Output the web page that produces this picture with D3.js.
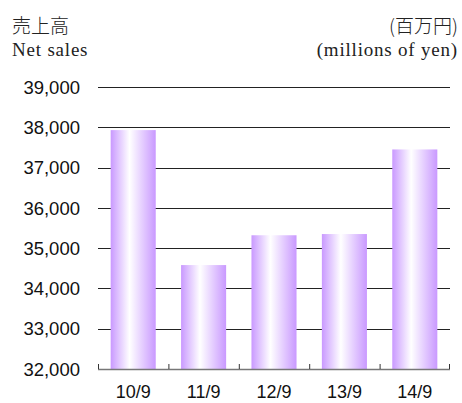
<!DOCTYPE html>
<html>
<head>
<meta charset="utf-8">
<script src="https://cdn.jsdelivr.net/npm/d3@7"></script>
<style>
  body { margin: 0; background: #fff; }
</style>
</head>
<body>
<div id="chart"></div>
<script>
var years = ["10/9", "11/9", "12/9", "13/9", "14/9"];
var sales = [37930, 34580, 35320, 35350, 37450];
var yTicks = [32000, 33000, 34000, 35000, 36000, 37000, 38000, 39000];

var width = 462, height = 403;
var plotLeft = 98, plotRight = 450, plotTop = 87, plotBottom = 369;

var svg = d3.select('#chart')
  .append('svg')
  .attr('width', width)
  .attr('height', height);

var defs = svg.append('defs');
var grad = defs.append('linearGradient')
  .attr('id', 'barGrad')
  .attr('x1', '0%').attr('x2', '100%')
  .attr('y1', '0%').attr('y2', '0%');
grad.append('stop').attr('offset', '0%').attr('stop-color', '#c999ff');
grad.append('stop').attr('offset', '42%').attr('stop-color', '#ffffff');
grad.append('stop').attr('offset', '100%').attr('stop-color', '#c999ff');

var x = d3.scaleBand()
  .domain(years)
  .range([plotLeft, plotRight])
  .paddingInner(0.36)
  .paddingOuter(0.18);

var xEdge = d3.scaleBand()
  .domain(years)
  .range([plotLeft, plotRight]);

var y = d3.scaleLinear()
  .domain([32000, 39000])
  .range([plotBottom, plotTop]);

// grid lines
svg.selectAll('.grid')
  .data(yTicks.slice(1))
  .enter().append('line')
  .attr('x1', plotLeft)
  .attr('x2', plotRight)
  .attr('y1', function (d) { return Math.round(y(d)) + 0.5; })
  .attr('y2', function (d) { return Math.round(y(d)) + 0.5; })
  .attr('stroke', '#222')
  .attr('stroke-width', 1.2);

// bars
svg.selectAll('.bar')
  .data(sales)
  .enter().append('rect')
  .attr('x', function (d, i) { return x(years[i]); })
  .attr('y', function (d) { return y(d); })
  .attr('width', x.bandwidth())
  .attr('height', function (d) { return y(32000) - y(d); })
  .attr('fill', 'url(#barGrad)');

// baseline and ticks
svg.append('line')
  .attr('x1', plotLeft).attr('x2', plotRight)
  .attr('y1', plotBottom + 0.5).attr('y2', plotBottom + 0.5)
  .attr('stroke', '#777')
  .attr('stroke-width', 1.5);

svg.selectAll('.tick')
  .data(years.concat(['end']))
  .enter().append('line')
  .attr('x1', function (d, i) { return i < years.length ? xEdge(d) + 0.5 : plotRight - 0.5; })
  .attr('x2', function (d, i) { return i < years.length ? xEdge(d) + 0.5 : plotRight - 0.5; })
  .attr('y1', plotBottom - 5)
  .attr('y2', plotBottom)
  .attr('stroke', '#333');

// y labels
svg.selectAll('.ylab')
  .data(yTicks)
  .enter().append('text')
  .attr('x', 80)
  .attr('y', function (d) { return y(d); })
  .attr('dy', '0.36em')
  .attr('text-anchor', 'end')
  .attr('font-family', 'Liberation Sans, Arial, sans-serif')
  .attr('font-size', '18.5px')
  .attr('fill', '#111')
  .text(function (d) { return d3.format(',')(d); });

// x labels
svg.selectAll('.xlab')
  .data(years)
  .enter().append('text')
  .attr('x', function (d) { return x(d) + x.bandwidth() / 2; })
  .attr('y', 398)
  .attr('text-anchor', 'middle')
  .attr('font-family', 'Liberation Sans, Arial, sans-serif')
  .attr('font-size', '18px')
  .attr('fill', '#111')
  .text(function (d) { return d; });

// titles
svg.append('text')
  .attr('x', 12).attr('y', 33)
  .attr('font-family', 'Noto Sans CJK JP')
  .attr('font-size', '19px')
  .attr('font-weight', 300)
  .attr('fill', '#222')
  .text('売上高');
svg.append('text')
  .attr('x', 12).attr('y', 56)
  .attr('font-family', 'Liberation Serif, serif')
  .attr('font-size', '19px')
  .attr('letter-spacing', '0.8px')
  .attr('fill', '#222')
  .text('Net sales');
svg.append('text')
  .attr('x', 458).attr('y', 33)
  .attr('text-anchor', 'end')
  .attr('font-family', 'Noto Sans CJK JP')
  .attr('font-size', '19px')
  .attr('font-weight', 300)
  .attr('fill', '#222')
  .text('(百万円)');
svg.append('text')
  .attr('x', 458).attr('y', 56)
  .attr('text-anchor', 'end')
  .attr('font-family', 'Liberation Serif, serif')
  .attr('font-size', '19px')
  .attr('letter-spacing', '0.8px')
  .attr('fill', '#222')
  .text('(millions of yen)');
</script>
</body>
</html>
